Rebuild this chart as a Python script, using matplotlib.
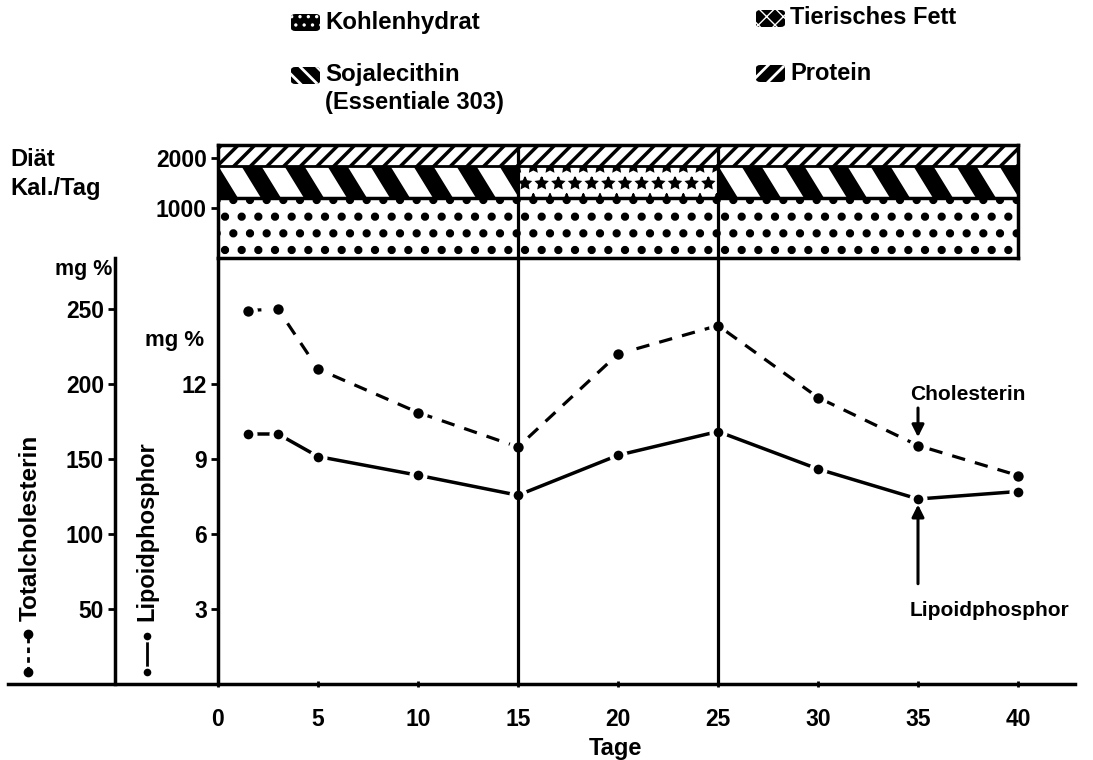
import matplotlib.pyplot as plt
import matplotlib.patches as mpatches
from matplotlib.lines import Line2D
import numpy as np

plt.rcParams['font.family'] = ['Liberation Sans', 'DejaVu Sans']
plt.rcParams['font.weight'] = 'bold'

# Messwerte
tage = [1.5, 3, 5, 10, 15, 20, 25, 30, 35, 40]
cholesterin = [249, 250, 210, 181, 158, 220, 239, 191, 159, 139]
lipoidphosphor = [10.0, 10.0, 9.1, 8.35, 7.55, 9.15, 10.1, 8.6, 7.4, 7.7]

x_ticks = [0, 5, 10, 15, 20, 25, 30, 35, 40]
chol_ticks = [50, 100, 150, 200, 250]
lp_ticks = [3, 6, 9, 12]
kal_ticks = [1000, 2000]

# Diaet-Phasen (Tage) und Kalorien
phase_start = [0, 15, 25]
phase_ende = [15, 25, 40]
phase_fett = ['lecithin', 'tierfett', 'lecithin']
kohlenhydrat_kal = 1200
fett_kal = 650
protein_kal = 410

W, H = 1093, 760
def fx(x):
    return x / W
def fy(y):
    return 1 - y / H

fig = plt.figure(figsize=(W / 100, H / 100), dpi=100)

# ---- Hauptdiagramm ----
ax = fig.add_axes([fx(8), fy(684), fx(1075) - fx(8), fy(145) - fy(684)])
ax.set_xlim((8 - 218) / 20, (1075 - 218) / 20)
ymax_chol = (684 - 145) / 1.5
ax.set_ylim(0, ymax_chol)
ax.patch.set_visible(False)
for s in ['top', 'right']:
    ax.spines[s].set_visible(False)
ax.spines['bottom'].set_linewidth(2.5)
ax.spines['left'].set_linewidth(2.5)
ax.spines['left'].set_position(('data', (115 - 218) / 20))
ax.spines['left'].set_bounds(0, (684 - 258) / 1.5)
ax.set_yticks(chol_ticks)
ax.set_xticks(x_ticks)
ax.tick_params(axis='y', direction='out', length=5, width=2, labelsize=16.5, pad=3)
ax.tick_params(axis='x', direction='inout', length=4, width=2, labelsize=16.5, pad=15)

ax.plot(tage, cholesterin, color='k', lw=2.3, dashes=(4.2, 3.2),
        marker='o', ms=10.5, mfc='k', mec='white', mew=3, zorder=2)

ax2 = ax.twinx()
ax2.set_ylim(0, ymax_chol * 12 / 200)
ax2.yaxis.tick_left()
for s in ['top', 'right', 'bottom']:
    ax2.spines[s].set_visible(False)
ax2.spines['left'].set_visible(True)
ax2.spines['left'].set_linewidth(2.5)
ax2.spines['left'].set_position(('data', 0))
ax2.spines['left'].set_bounds(0, (684 - 258) / 1.5 * 12 / 200)
ax2.set_yticks(lp_ticks)
ax2.tick_params(axis='y', direction='out', length=5, width=2, labelsize=16.5, pad=3)

ax2.plot(tage, lipoidphosphor, color='k', lw=2.5,
         marker='o', ms=10, mfc='k', mec='white', mew=3, zorder=2)
for t in phase_start[1:]:
    ax2.axvline(t, color='k', lw=2.3, zorder=3)

# Pfeile und Beschriftungen
ax.annotate('', xy=(tage[8], cholesterin[8]), xytext=(0, 27), textcoords='offset points',
            arrowprops=dict(arrowstyle='-|>', lw=2.2, color='k', shrinkA=0, shrinkB=6,
                            mutation_scale=18))
ax.annotate('Cholesterin', xy=(tage[8], cholesterin[8]), xytext=(-6, 37),
            textcoords='offset points', ha='left', va='center', fontsize=15)
ax2.annotate('', xy=(tage[8], lipoidphosphor[8]), xytext=(0, -61), textcoords='offset points',
             arrowprops=dict(arrowstyle='-|>', lw=2.2, color='k', shrinkA=0, shrinkB=4,
                             mutation_scale=18))
ax2.annotate('Lipoidphosphor', xy=(tage[8], lipoidphosphor[8]), xytext=(-6, -80),
             textcoords='offset points', ha='left', va='center', fontsize=15)

# ---- Diaet-Balken ----
axd = fig.add_axes([fx(218), fy(258), fx(1018) - fx(218), fy(145) - fy(258)])
axd.set_xlim(0, 40)
axd.set_ylim(0, kohlenhydrat_kal + fett_kal + protein_kal)
axd.set_xticks([])
axd.set_yticks(kal_ticks)
axd.tick_params(axis='y', direction='out', length=5, width=2, labelsize=16.5, pad=3)
for s in axd.spines.values():
    s.set_linewidth(2.5)

def band(x0, x1, y0, h, hatch, hlw):
    r = mpatches.Rectangle((x0, y0), x1 - x0, h, facecolor='white', edgecolor='k',
                           lw=0, hatch=hatch)
    if hasattr(r, 'set_hatch_linewidth'):
        r.set_hatch_linewidth(hlw)
    axd.add_patch(r)
    return r

plt.rcParams['hatch.linewidth'] = 2.5
periode, breite, schraeg = 2.15, 1.0, 1.0
for s, e, fett in zip(phase_start, phase_ende, phase_fett):
    band(s, e, 0, kohlenhydrat_kal, '.', 3.5)
    band(s, e, kohlenhydrat_kal + fett_kal, protein_kal, '//', 2.5)
    if fett == 'tierfett':
        band(s, e, kohlenhydrat_kal, fett_kal, '*', 1.3)
    else:
        clip = band(s, e, kohlenhydrat_kal, fett_kal, '', 1)
        y0, y1 = kohlenhydrat_kal, kohlenhydrat_kal + fett_kal
        for x0 in np.arange(s - schraeg, e, periode):
            p = mpatches.Polygon([(x0, y1), (x0 + breite, y1),
                                  (x0 + breite + schraeg, y0), (x0 + schraeg, y0)],
                                 facecolor='k', lw=0)
            axd.add_patch(p)
            p.set_clip_path(clip)
axd.axhline(kohlenhydrat_kal, color='k', lw=2.5)
axd.axhline(kohlenhydrat_kal + fett_kal, color='k', lw=2)
for t in phase_start[1:]:
    axd.axvline(t, color='k', lw=2.3)

# ---- Legende oben ----
def icon(x, y, hatch, hlw):
    r = mpatches.FancyBboxPatch((fx(x), fy(y + 17)), fx(29), 17 / H,
                                boxstyle='round,pad=0,rounding_size=0.004',
                                facecolor='k', edgecolor='white', lw=0, hatch=hatch,
                                transform=fig.transFigure)
    if hasattr(r, 'set_hatch_linewidth'):
        r.set_hatch_linewidth(hlw)
    fig.add_artist(r)

icon(291, 14, '..', 1.2)
icon(291, 67, '\\\\', 2)
icon(756, 10, 'xx', 1.0)
icon(756, 65, '//', 2)
fig.text(fx(325), fy(22), 'Kohlenhydrat', ha='left', va='center', fontsize=17.3)
fig.text(fx(325), fy(75), 'Sojalecithin', ha='left', va='center', fontsize=17.3)
fig.text(fx(325), fy(102), '(Essentiale 303)', ha='left', va='center', fontsize=17)
fig.text(fx(790), fy(18), 'Tierisches Fett', ha='left', va='center', fontsize=17)
fig.text(fx(790), fy(73), 'Protein', ha='left', va='center', fontsize=17)

fig.text(fx(10), fy(160), 'Diät', ha='left', va='center', fontsize=17)
fig.text(fx(10), fy(188), 'Kal./Tag', ha='left', va='center', fontsize=17)
fig.text(fx(84), fy(270), 'mg %', ha='center', va='center', fontsize=15.5)
fig.text(fx(175), fy(340), 'mg %', ha='center', va='center', fontsize=16)
fig.text(fx(615), fy(748), 'Tage', ha='center', va='center', fontsize=17)

fig.text(fx(30), fy(621), 'Totalcholesterin', rotation=90, ha='center', va='bottom',
         fontsize=17.5)
fig.text(fx(147), fy(621), 'Lipoidphosphor', rotation=90, ha='center', va='bottom',
         fontsize=17)

# kleine Linien-Symbole unter den Achsentiteln
fig.add_artist(Line2D([fx(28), fx(28)], [fy(672), fy(634)], color='k', lw=2,
                      dashes=(2, 1.5), marker='o', ms=6, transform=fig.transFigure))
fig.add_artist(Line2D([fx(147), fx(147)], [fy(672), fy(636)], color='k', lw=2,
                      marker='o', ms=7, mfc='k', mec='white', mew=1.5,
                      transform=fig.transFigure))

fig.savefig('out.png', dpi=100, facecolor='white')
